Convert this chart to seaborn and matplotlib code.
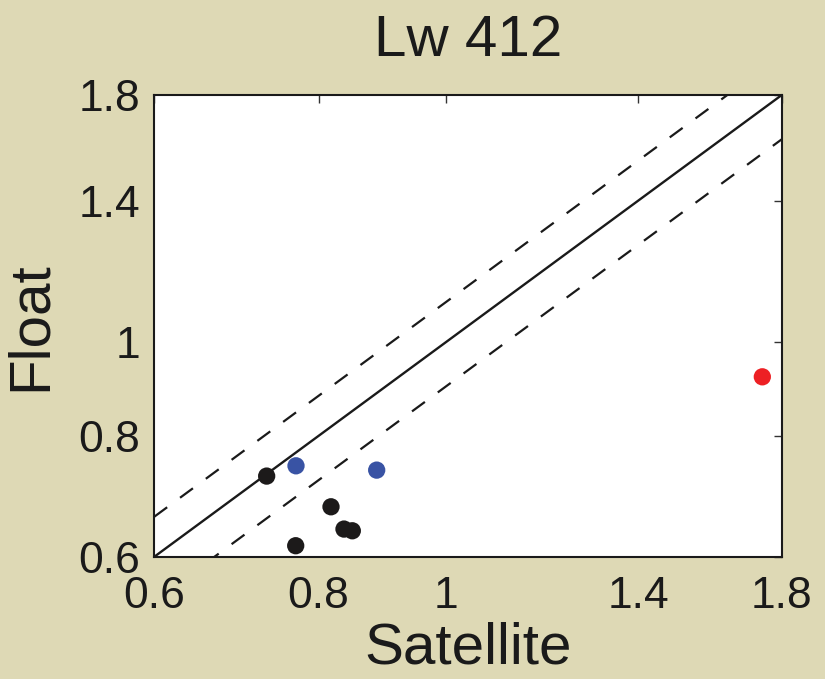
import matplotlib
matplotlib.use("Agg")
import matplotlib.pyplot as plt
import seaborn as sns
import pandas as pd
from matplotlib.ticker import FixedLocator, FixedFormatter, NullLocator

# ---- data ----
satellite = [0.7305, 0.7686, 0.8176, 0.8364, 0.8487, 0.769, 0.8857, 1.740]
float_vals = [0.727, 0.616, 0.6758, 0.6409, 0.6383, 0.745, 0.7374, 0.9207]
group = ["black", "black", "black", "black", "black", "blue", "blue", "red"]
line_x = [0.6, 1.8]
upper_factor = 1.1
lower_factor = 0.9
tick_values = [0.6, 0.8, 1.0, 1.4, 1.8]
tick_labels = ["0.6", "0.8", "1", "1.4", "1.8"]
title = "Lw 412"
xlabel = "Satellite"
ylabel = "Float"

df = pd.DataFrame({"Satellite": satellite, "Float": float_vals, "group": group})

sns.set_theme(style="white")
plt.rcParams["font.family"] = ["Liberation Sans", "DejaVu Sans"]

bg = "#DED9B5"
fig = plt.figure(figsize=(8.25, 6.79), dpi=100, facecolor=bg)
ax = fig.add_axes([0.187, 0.180, 0.7605, 0.680])
ax.set_facecolor("white")

ax.set_xscale("log")
ax.set_yscale("log")

ax.plot(line_x, line_x, color="#1a1a1a", lw=1.7, zorder=2)
ax.plot(line_x, [v * upper_factor for v in line_x], color="#1a1a1a", lw=1.6,
        ls=(0, (7.2, 7.2)), zorder=2)
ax.plot(line_x, [v * lower_factor for v in line_x], color="#1a1a1a", lw=1.6,
        ls=(0, (7.2, 7.2)), zorder=2)

sns.scatterplot(data=df, x="Satellite", y="Float", hue="group",
                palette={"black": "#1c1a1a", "blue": "#3953a4", "red": "#ed2024"},
                s=155, edgecolor="none", legend=False, ax=ax, zorder=3)

ax.set_xlim(0.6, 1.8)
ax.set_ylim(0.6, 1.8)
for axis in (ax.xaxis, ax.yaxis):
    axis.set_major_locator(FixedLocator(tick_values))
    axis.set_major_formatter(FixedFormatter(tick_labels))
    axis.set_minor_locator(NullLocator())

ax.tick_params(axis="both", which="major", direction="in", length=6, width=1,
               color="#333333", labelsize=32, labelcolor="#1a1a1a",
               top=True, right=True)
ax.tick_params(axis="x", pad=14)
ax.tick_params(axis="y", pad=10)

for sp in ax.spines.values():
    sp.set_visible(True)
    sp.set_color("#1a1a1a")
    sp.set_linewidth(1.5)

ax.set_title(title, fontsize=42, color="#1a1a1a", pad=28)
ax.set_xlabel(xlabel, fontsize=42, color="#1a1a1a", labelpad=3)
ax.set_ylabel(ylabel, fontsize=42, color="#1a1a1a", labelpad=15)

fig.savefig("out.png", dpi=100, facecolor=bg)
